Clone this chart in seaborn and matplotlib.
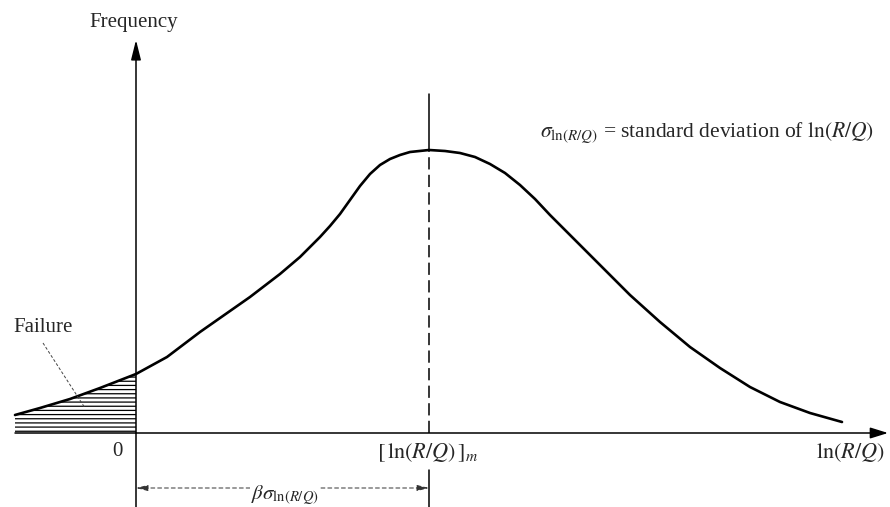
import matplotlib
matplotlib.use("Agg")
import matplotlib.pyplot as plt
import seaborn as sns
import pandas as pd

# Frequency curve of ln(R/Q): x measured from the failure boundary (0)
ln_rq = [-1.21, -0.96, -0.66, -0.36, 0.00, 0.31, 0.64, 1.14, 1.44, 1.64,
         1.84, 1.94, 2.04, 2.14, 2.24, 2.34, 2.44, 2.54, 2.64, 2.74,
         2.93, 3.09, 3.24, 3.39, 3.54, 3.69, 3.84, 3.99, 4.14, 4.34,
         4.64, 4.94, 5.24, 5.54, 5.84, 6.14, 6.44, 6.74, 7.06]
frequency = [0.18, 0.25, 0.34, 0.45, 0.59, 0.76, 1.01, 1.36, 1.59, 1.76,
             1.96, 2.07, 2.19, 2.33, 2.47, 2.59, 2.68, 2.74, 2.78, 2.81,
             2.83, 2.82, 2.80, 2.76, 2.69, 2.60, 2.48, 2.34, 2.18, 1.98,
             1.68, 1.38, 1.11, 0.86, 0.65, 0.46, 0.31, 0.20, 0.11]
median_ln_rq = 2.93
peak_frequency = 2.83

df = pd.DataFrame({"ln_rq": ln_rq, "frequency": frequency})
fail = df[df["ln_rq"] <= 0]

sns.set_theme(style="white")
plt.rcParams["font.family"] = ["Liberation Serif", "DejaVu Serif"]
plt.rcParams["mathtext.fontset"] = "stix"
plt.rcParams["hatch.linewidth"] = 0.9

fig = plt.figure(figsize=(8.9, 5.07), dpi=100)
ax = fig.add_axes([0, 0, 1, 1])
ax.set_xlim(-1.36, 7.54)
ax.set_ylim(-0.74, 4.33)
ax.axis("off")

# density curve
sns.lineplot(data=df, x="ln_rq", y="frequency", ax=ax, color="black",
             linewidth=1.9, sort=True)

# hatched failure region
ax.fill_between(fail["ln_rq"], fail["frequency"], 0, facecolor="none",
                edgecolor="black", hatch="----", linewidth=0)

# axes with arrows
x_left, x_right = -1.21, 7.52
y_top, y_bottom = 3.93, -0.74
ax.annotate("", xy=(x_right, 0), xytext=(x_left, 0),
            arrowprops=dict(arrowstyle="-|>,head_length=0.9,head_width=0.28",
                            color="black", lw=1.1, shrinkA=0, shrinkB=0))
ax.annotate("", xy=(0, y_top), xytext=(0, 0),
            arrowprops=dict(arrowstyle="-|>,head_length=1.0,head_width=0.25",
                            color="black", lw=1.1, shrinkA=0, shrinkB=0))
ax.plot([0, 0], [0, y_bottom], color="black", lw=1.1)

# median line
ax.plot([median_ln_rq, median_ln_rq], [peak_frequency, 3.39], color="black", lw=1.1)
ax.plot([median_ln_rq, median_ln_rq], [0, peak_frequency], color="black", lw=1.1,
        linestyle=(0, (8, 3.5)))
ax.plot([median_ln_rq, median_ln_rq], [-0.37, y_bottom], color="black", lw=1.1)

# beta * sigma dimension
dim_y = -0.55
ax.annotate("", xy=(0, dim_y), xytext=(median_ln_rq, dim_y),
            arrowprops=dict(arrowstyle="<|-|>,head_length=0.6,head_width=0.15",
                            color="#333333", lw=0.7, linestyle=(0, (4, 3)),
                            shrinkA=0, shrinkB=0))
ax.text(1.49, -0.62, r"$\beta\sigma_{\ln(R/Q)}$", fontsize=15, ha="center",
        va="center", bbox=dict(facecolor="white", edgecolor="none", pad=1))

# labels
ax.text(-0.02, 4.11, "Frequency", fontsize=15, ha="center", va="center")
ax.text(-1.23, 1.06, "Failure", fontsize=15, ha="left", va="center")
ax.plot([-0.93, -0.51], [0.90, 0.25], color="#444444", lw=0.7,
        linestyle=(0, (3, 2)))
ax.text(-0.19, -0.18, "0", fontsize=15, ha="center", va="center")
ax.text(median_ln_rq - 0.01, -0.20, r"$[\,\ln(R/Q)\,]_m$", fontsize=16,
        ha="center", va="center")
ax.text(7.14, -0.20, r"$\ln(R/Q)$", fontsize=16, ha="center", va="center")
ax.text(4.04, 3.00, r"$\sigma_{\ln(R/Q)}$ = standard deviation of $\ln(R/Q)$",
        fontsize=15.5, ha="left", va="center")

fig.savefig("out.png", dpi=100, facecolor="white")
